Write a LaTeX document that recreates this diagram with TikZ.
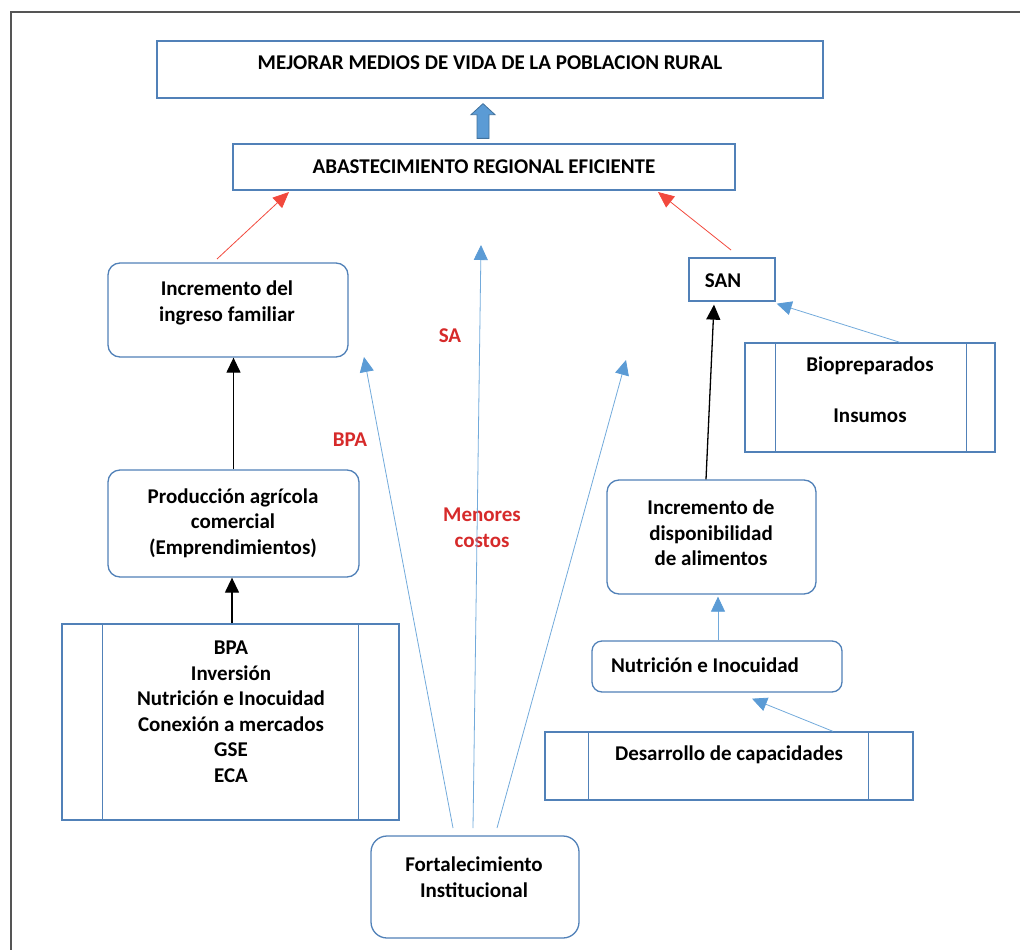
\documentclass[tikz,border=0pt]{standalone}
\usepackage{fontspec}
\setmainfont{Carlito}
\usetikzlibrary{arrows.meta,calc}
\definecolor{bcol}{HTML}{5181B8}
\definecolor{lblue}{HTML}{72AADB}
\definecolor{hblue}{HTML}{5B9BD5}
\definecolor{rline}{HTML}{F2493D}
\definecolor{rtext}{HTML}{D62A2A}
\definecolor{fatfill}{HTML}{5B9BD5}
\definecolor{fatdraw}{HTML}{41719C}
\definecolor{framecol}{HTML}{555555}
\begin{document}
\begin{tikzpicture}[x=1pt,y=-1pt,
  box/.style={draw=bcol, line width=1.3pt, inner sep=0pt, fill=white},
  rbox/.style={box, rounded corners=12pt},
  lbl/.style={font=\fontsize{21}{25.5}\selectfont\bfseries, align=center, inner sep=0pt},
  rlbl/.style={lbl, text=rtext},
  blk/.style={draw=black, line width=1.3pt, -{Triangle[length=15pt,width=14pt]}},
  blu/.style={draw=lblue, line width=0.8pt, -{Triangle[length=15pt,width=14pt,color=hblue]}},
  redarr/.style={draw=rline, line width=0.8pt, -{Triangle[length=16pt,width=14pt]}},
  fat/.style={fill=fatfill, draw=fatdraw, line width=0.8pt},
  bar/.style={draw=bcol, line width=1.3pt}
]
\useasboundingbox (0,0) rectangle (1020,950);
\draw[framecol, line width=1.6pt] (11,950) -- (11,12) -- (1020,12);

% boxes
\node[box, minimum width=666pt, minimum height=57pt] (b1) at (490,69.5) {};
\node[box, minimum width=502pt, minimum height=46pt] (b2) at (484,167) {};
\node[rbox, minimum width=240pt, minimum height=94pt] (inc) at (228,310) {};
\node[rbox, minimum width=251pt, minimum height=107pt] (prod) at (233.5,523.5) {};
\node[box, minimum width=337pt, minimum height=196pt] (bpa) at (230.5,722) {};
\draw[bar] (bpa.north west) ++(41pt,0) -- ++(0,-196pt);
\draw[bar] (bpa.north east) ++(-41pt,0) -- ++(0,-196pt);
\node[box, minimum width=86pt, minimum height=43pt] (san) at (732,279.5) {};
\node[box, minimum width=250pt, minimum height=109pt] (bio) at (870,397.5) {};
\draw[bar] (bio.north west) ++(31pt,0) -- ++(0,-109pt);
\draw[bar] (bio.north east) ++(-29pt,0) -- ++(0,-109pt);
\node[rbox, minimum width=209pt, minimum height=114pt] (disp) at (711.5,537) {};
\node[rbox, minimum width=250pt, minimum height=51pt, rounded corners=10pt] (nut) at (717,666.5) {};
\node[box, minimum width=368pt, minimum height=68pt] (des) at (729,766) {};
\draw[bar] (des.north west) ++(44pt,0) -- ++(0,-68pt);
\draw[bar] (des.north east) ++(-45pt,0) -- ++(0,-68pt);
\node[rbox, minimum width=208pt, minimum height=102pt, rounded corners=16pt] (fort) at (475,887) {};

% texts
\node[lbl] (t1) at (490,63) {MEJORAR MEDIOS DE VIDA DE LA POBLACION RURAL};
\node[lbl] (t2) at (484,167) {ABASTECIMIENTO REGIONAL EFICIENTE};
\node[lbl] (tinc) at (227,303) {Incremento del\\ingreso familiar};
\node[lbl] (tprod) at (233,523) {Producción agrícola\\comercial\\(Emprendimientos)};
\node[lbl] (tbpa) at (231,712) {BPA\\Inversión\\Nutrición e Inocuidad\\Conexión a mercados\\GSE\\ECA};
\node[lbl] (tsan) at (723,281) {SAN};
\node[lbl] (tbio1) at (870,366) {Biopreparados};
\node[lbl] (tbio2) at (870,416) {Insumos};
\node[lbl] (tdisp) at (711,533) {Incremento de\\disponibilidad\\de alimentos};
\node[lbl] (tnut) at (705,665) {Nutrición e Inocuidad};
\node[lbl] (tdes) at (729,755) {Desarrollo de capacidades};
\node[lbl] (tfort) at (474,877) {Fortalecimiento\\Institucional};
\node[rlbl] (lsa) at (450,336) {SA};
\node[rlbl] (lbpa) at (350,440) {BPA};
\node[rlbl] (lmc) at (482,528) {Menores\\costos};

% fat arrow b2 -> b1
\filldraw[fat] let \p1=(b2.north), \p2=(b1.south) in
  (\x1-7pt,\y1+5pt) -- (\x1-7pt,\y2-16pt) -- (\x1-13pt,\y2-16pt) -- (\x1-1pt,\y2-5pt)
  -- (\x1+11pt,\y2-16pt) -- (\x1+5pt,\y2-16pt) -- (\x1+5pt,\y1+5pt) -- cycle;

% red arrows
\coordinate (rs1) at (217,259);
\coordinate (re1) at (289,192);
\coordinate (rs2) at (731,250);
\coordinate (re2) at (658,192);
\draw[redarr] (rs1) -- (re1);
\draw[redarr] (rs2) -- (re2);

% black arrows
\draw[blk] (prod.north) -- (prod.north |- inc.south);
\draw[blk] ([xshift=1.5pt]bpa.north) -- ([xshift=1.5pt]bpa.north |- prod.south);
\draw[blk] ([xshift=-5.5pt]disp.north) -- ([xshift=-18pt,yshift=-3pt]san.south);

% blue arrows
\draw[blu] ([xshift=1pt]nut.north) -- ([xshift=1pt,yshift=-2pt]nut.north |- disp.south);
\draw[blu] ([xshift=104pt]des.north) -- ([xshift=35pt,yshift=-6pt]nut.south);
\draw[blu] ([xshift=30pt]bio.north) -- ([xshift=1pt,yshift=-2pt]san.south east);

\coordinate (fs1) at (453,828);
\coordinate (fs2) at (473,828);
\coordinate (fs3) at (497,828);
\coordinate (fe1) at (364,357);
\coordinate (fe2) at (481,245);
\coordinate (fe3) at (626,360);
\draw[blu] (fs1) -- (fe1);
\draw[blu] (fs2) -- (fe2);
\draw[blu] (fs3) -- (fe3);
\end{tikzpicture}
\end{document}
